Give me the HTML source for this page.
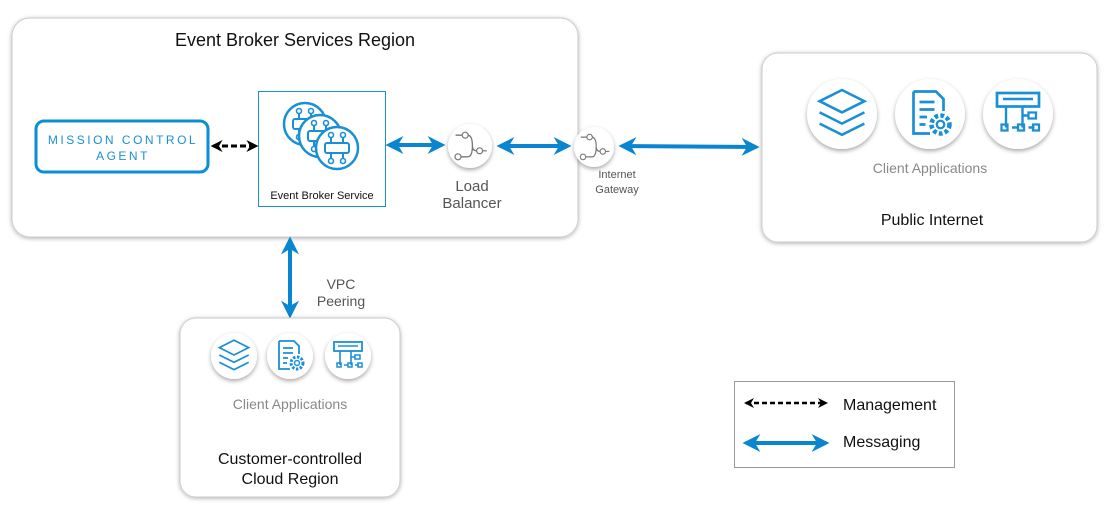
<!DOCTYPE html>
<html><head><meta charset="utf-8"><style>
body{margin:0;background:#fff;}
svg{display:block;font-family:"Liberation Sans",sans-serif;}
</style></head><body>
<svg width="1108" height="507" viewBox="0 0 1108 507" xmlns="http://www.w3.org/2000/svg">
<defs>
<filter id="sh" x="-20%" y="-20%" width="140%" height="140%"><feDropShadow dx="0" dy="1" stdDeviation="2" flood-color="#000" flood-opacity="0.3"/></filter>
<filter id="cs" x="-30%" y="-30%" width="160%" height="160%"><feDropShadow dx="0" dy="2" stdDeviation="2" flood-color="#000" flood-opacity="0.35"/></filter>
<marker id="ab" viewBox="0 0 10 10" refX="8" refY="5" markerWidth="4.5" markerHeight="4.5" orient="auto-start-reverse"><path d="M0,0 L10,5 L0,10 L3,5z" fill="#0a86d0"/></marker>
<marker id="ak" viewBox="0 0 10 10" refX="8" refY="5" markerWidth="4" markerHeight="4" orient="auto-start-reverse"><path d="M0,0 L10,5 L0,10 L3,5z" fill="#000"/></marker>
<g id="layers"><path d="M-14,-8 L0,-15 L14,-8 L0,-1z M-14,-1 L0,6 L14,-1 M-14,6 L0,13 L14,6" fill="none" stroke="#1a8fd6" stroke-width="1.6"/></g>
<g id="doc"><path d="M-11,-15 H4 L9,-10 V-2 M-11,-15 V13 H0" fill="none" stroke="#1a8fd6" stroke-width="1.8"/><path d="M-7,-8 H3 M-7,-3 H3 M-7,2 H-2 M-7,7 H-3" stroke="#1a8fd6" stroke-width="1.8"/><circle cx="7" cy="7" r="6" fill="none" stroke="#1a8fd6" stroke-width="3" stroke-dasharray="2.5 1.5"/><circle cx="7" cy="7" r="2.5" fill="none" stroke="#1a8fd6" stroke-width="1.5"/></g>
<g id="tree"><rect x="-14" y="-14" width="28" height="9" fill="none" stroke="#1a8fd6" stroke-width="1.8"/><path d="M-10,-10 H10 M-8,-5 V9 M3,-5 V9 M-4,9 H0 M3,1 H7 M7,9 H11" stroke="#1a8fd6" stroke-width="1.6" fill="none"/><rect x="-11" y="7" width="4" height="4" fill="none" stroke="#1a8fd6" stroke-width="1.5"/><rect x="0" y="7" width="4" height="4" fill="none" stroke="#1a8fd6" stroke-width="1.5"/><rect x="7" y="-1" width="5" height="4" fill="none" stroke="#1a8fd6" stroke-width="1.5"/><rect x="10" y="7" width="4" height="4" fill="none" stroke="#1a8fd6" stroke-width="1.5"/></g>
<g id="router"><path d="M-12,-9 H-6 M-2,-9 Q2,-9 2,0 Q2,4 6,4 M2,0 Q2,9 -2,9 H-8" stroke="#777" stroke-width="1.1" fill="none"/><circle cx="-4" cy="-9" r="2.5" fill="#fff" stroke="#777"/><circle cx="8" cy="4" r="2.5" fill="#fff" stroke="#777"/><circle cx="-10" cy="9" r="2.5" fill="#fff" stroke="#777"/><path d="M10.5,4 H14" stroke="#777"/></g>
<g id="ebs"><circle r="21" fill="#fff" stroke="#1a8fd6" stroke-width="2.5"/><rect x="-12" y="-5" width="24" height="10" rx="2" fill="none" stroke="#1a8fd6" stroke-width="2"/><path d="M-6,-5 V-11 M6,-5 V-11 M-6,5 V11 M6,5 V11" stroke="#1a8fd6" stroke-width="2"/><circle cx="-6" cy="-13" r="2.5" fill="#fff" stroke="#1a8fd6" stroke-width="1.6"/><circle cx="6" cy="-13" r="2.5" fill="#fff" stroke="#1a8fd6" stroke-width="1.6"/><circle cx="-6" cy="13" r="2.5" fill="#fff" stroke="#1a8fd6" stroke-width="1.6"/><circle cx="6" cy="13" r="2.5" fill="#fff" stroke="#1a8fd6" stroke-width="1.6"/></g>
</defs>

<rect x="12" y="18" width="566" height="219" rx="18" fill="#fff" stroke="#ccc" filter="url(#sh)"/>
<text x="295" y="46" font-size="18" text-anchor="middle" fill="#111">Event Broker Services Region</text>
<rect x="36" y="121" width="172" height="51" rx="8" fill="#fff" stroke="#0a8fd6" stroke-width="3"/>
<text x="123" y="144" font-size="12" text-anchor="middle" fill="#1a8fd6" letter-spacing="2.5">MISSION CONTROL</text>
<text x="123" y="160" font-size="12" text-anchor="middle" fill="#1a8fd6" letter-spacing="2.5">AGENT</text>
<line x1="213" y1="146" x2="256" y2="146" stroke="#000" stroke-width="3" stroke-dasharray="6 3" marker-start="url(#ak)" marker-end="url(#ak)"/>
<rect x="258.5" y="91.5" width="127" height="115" fill="#fff" stroke="#1a8fd6"/>
<use href="#ebs" x="305" y="124"/><use href="#ebs" x="320" y="136"/><use href="#ebs" x="337" y="148"/>
<text x="322" y="199" font-size="11" text-anchor="middle" fill="#111">Event Broker Service</text>
<line x1="389" y1="145" x2="442" y2="145" stroke="#0a86d0" stroke-width="4" marker-start="url(#ab)" marker-end="url(#ab)"/>
<circle cx="470" cy="146" r="22" fill="#fff" filter="url(#cs)"/><use href="#router" transform="translate(470,146) scale(1.2)"/>
<text x="472" y="191" font-size="15" text-anchor="middle" fill="#555">Load</text>
<text x="472" y="208" font-size="15" text-anchor="middle" fill="#555">Balancer</text>
<line x1="500" y1="146" x2="568" y2="146" stroke="#0a86d0" stroke-width="4" marker-start="url(#ab)" marker-end="url(#ab)"/>
<circle cx="594" cy="147" r="20" fill="#fff" filter="url(#cs)"/><use href="#router" transform="translate(594,147) scale(1.1)"/>
<text x="617" y="178" font-size="11" text-anchor="middle" fill="#555">Internet</text>
<text x="617" y="193" font-size="11" text-anchor="middle" fill="#555">Gateway</text>
<line x1="622" y1="146" x2="756" y2="147" stroke="#0a86d0" stroke-width="4" marker-start="url(#ab)" marker-end="url(#ab)"/>

<rect x="762" y="53" width="335" height="189" rx="16" fill="#fff" stroke="#ccc" filter="url(#sh)"/>
<circle cx="842" cy="114" r="35" fill="#fff" filter="url(#cs)"/><use href="#layers" transform="translate(842,114) scale(1.6)"/>
<circle cx="930" cy="114" r="35" fill="#fff" filter="url(#cs)"/><use href="#doc" transform="translate(930,114) scale(1.5)"/>
<circle cx="1018" cy="114" r="35" fill="#fff" filter="url(#cs)"/><use href="#tree" transform="translate(1018,114) scale(1.5)"/>
<text x="930" y="173" font-size="14" text-anchor="middle" fill="#888">Client Applications</text>
<text x="932" y="225" font-size="16" text-anchor="middle" fill="#111">Public Internet</text>

<line x1="290" y1="240" x2="290" y2="315" stroke="#0a86d0" stroke-width="4" marker-start="url(#ab)" marker-end="url(#ab)"/>
<text x="341" y="289" font-size="14" text-anchor="middle" fill="#555">VPC</text>
<text x="341" y="306" font-size="14" text-anchor="middle" fill="#555">Peering</text>

<rect x="180" y="318" width="220" height="179" rx="16" fill="#fff" stroke="#ccc" filter="url(#sh)"/>
<circle cx="234" cy="356" r="23" fill="#fff" filter="url(#cs)"/><use href="#layers" transform="translate(234,356) scale(1.05)"/>
<circle cx="290" cy="356" r="23" fill="#fff" filter="url(#cs)"/><use href="#doc" transform="translate(290,356) scale(1)"/>
<circle cx="348" cy="356" r="23" fill="#fff" filter="url(#cs)"/><use href="#tree" transform="translate(348,356) scale(1)"/>
<text x="290" y="409" font-size="14" text-anchor="middle" fill="#888">Client Applications</text>
<text x="290" y="464" font-size="16" text-anchor="middle" fill="#111">Customer-controlled</text>
<text x="290" y="484" font-size="16" text-anchor="middle" fill="#111">Cloud Region</text>

<rect x="734.5" y="381.5" width="220" height="86" fill="#fff" stroke="#999"/>
<line x1="746" y1="403" x2="826" y2="403" stroke="#000" stroke-width="2.5" stroke-dasharray="5 3" marker-start="url(#ak)" marker-end="url(#ak)"/>
<text x="843" y="410" font-size="16" fill="#111">Management</text>
<line x1="746" y1="443" x2="826" y2="443" stroke="#0a86d0" stroke-width="4" marker-start="url(#ab)" marker-end="url(#ab)"/>
<text x="843" y="447" font-size="16" fill="#111">Messaging</text>
</svg>
</body></html>
